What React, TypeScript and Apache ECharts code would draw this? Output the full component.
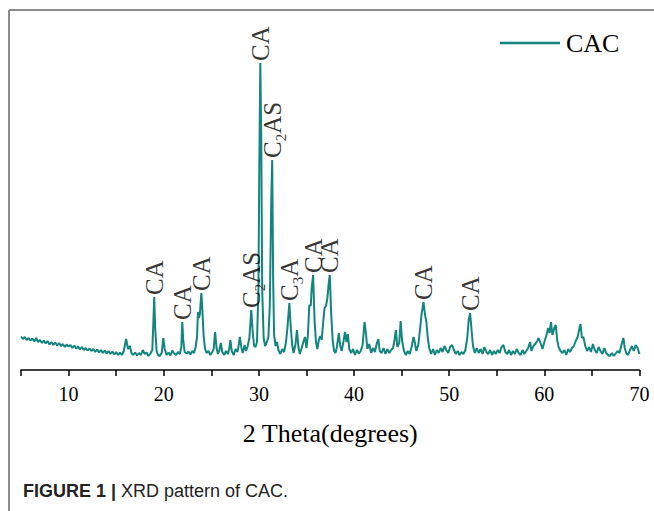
import React, { useEffect, useRef } from "react";
import * as echarts from "echarts";

// XRD pattern of CAC: [2θ (degrees), intensity (a.u.)]
const xrdPattern: [number, number][] = [
  [5.0, 335], [5.2, 310], [5.4, 330], [5.6, 300], [5.8, 320], [6.0, 295], [6.2, 315], [6.4, 285], [6.6, 320], [6.8, 280],
  [7.0, 300], [7.2, 270], [7.4, 295], [7.6, 265], [7.8, 290], [8.0, 255], [8.2, 280], [8.4, 250], [8.6, 275], [8.8, 245],
  [9.0, 270], [9.2, 240], [9.4, 260], [9.6, 230], [9.8, 255], [10.0, 235], [10.2, 250], [10.4, 220], [10.6, 245], [10.8, 215],
  [11.0, 235], [11.2, 205], [11.4, 230], [11.6, 200], [11.8, 220], [12.0, 195], [12.2, 215], [12.4, 190], [12.6, 210], [12.8, 180],
  [13.0, 205], [13.2, 175], [13.4, 200], [13.6, 170], [13.8, 195], [14.0, 165], [14.2, 190], [14.4, 160], [14.6, 185], [14.8, 155],
  [15.0, 180], [15.2, 150], [15.4, 175], [15.6, 150], [15.8, 190], [16.05, 310], [16.25, 210], [16.45, 240], [16.6, 170], [16.8, 150],
  [17.0, 175], [17.2, 145], [17.4, 170], [17.6, 150], [17.8, 200], [18.0, 160], [18.2, 175], [18.4, 140], [18.6, 165], [18.8, 200],
  [18.9, 450], [19.0, 730], [19.1, 420], [19.25, 190], [19.4, 150], [19.6, 140], [19.8, 175], [19.95, 320], [20.1, 210], [20.3, 150],
  [20.5, 175], [20.7, 145], [20.9, 195], [21.1, 165], [21.3, 150], [21.5, 180], [21.7, 160], [21.85, 230], [21.95, 480], [22.05, 300],
  [22.2, 180], [22.4, 165], [22.6, 185], [22.8, 155], [23.0, 190], [23.2, 170], [23.35, 230], [23.5, 330], [23.6, 580], [23.7, 520],
  [23.8, 560], [23.95, 770], [24.05, 620], [24.2, 330], [24.35, 210], [24.5, 170], [24.7, 190], [24.9, 150], [25.1, 180], [25.25, 210],
  [25.4, 380], [25.55, 220], [25.7, 160], [25.85, 200], [26.0, 270], [26.15, 180], [26.35, 150], [26.55, 190], [26.75, 160], [26.9, 220],
  [27.0, 300], [27.15, 190], [27.35, 150], [27.55, 210], [27.75, 180], [27.9, 260], [28.0, 330], [28.15, 230], [28.3, 170], [28.5, 250],
  [28.65, 190], [28.8, 230], [29.0, 320], [29.2, 600], [29.35, 380], [29.5, 240], [29.65, 230], [29.8, 280], [29.95, 800], [30.05, 2100],
  [30.15, 3070], [30.25, 2300], [30.35, 800], [30.5, 320], [30.65, 240], [30.8, 270], [31.0, 330], [31.15, 650], [31.3, 1700], [31.4, 2100],
  [31.5, 900], [31.6, 350], [31.75, 240], [31.9, 280], [32.05, 200], [32.25, 160], [32.45, 210], [32.65, 180], [32.85, 280], [33.0, 420],
  [33.2, 670], [33.35, 430], [33.5, 250], [33.65, 170], [33.85, 260], [34.0, 400], [34.15, 230], [34.3, 160], [34.5, 220], [34.7, 290],
  [34.85, 330], [35.0, 220], [35.15, 350], [35.3, 650], [35.45, 640], [35.55, 820], [35.7, 950], [35.85, 500], [36.0, 280], [36.15, 210],
  [36.3, 300], [36.45, 340], [36.6, 300], [36.75, 470], [36.9, 620], [37.05, 640], [37.2, 720], [37.35, 880], [37.45, 950], [37.6, 560],
  [37.75, 300], [37.9, 190], [38.05, 170], [38.2, 230], [38.4, 370], [38.55, 240], [38.7, 190], [38.9, 290], [39.05, 380], [39.2, 280],
  [39.35, 360], [39.5, 210], [39.7, 170], [39.9, 210], [40.1, 150], [40.3, 200], [40.5, 165], [40.7, 190], [40.9, 250], [41.1, 480],
  [41.25, 370], [41.4, 210], [41.6, 260], [41.8, 170], [42.0, 220], [42.2, 180], [42.4, 270], [42.55, 310], [42.7, 190], [42.9, 170],
  [43.1, 220], [43.3, 160], [43.5, 210], [43.7, 170], [43.9, 200], [44.1, 220], [44.25, 300], [44.4, 400], [44.55, 230], [44.75, 270],
  [44.9, 490], [45.05, 290], [45.25, 190], [45.45, 150], [45.65, 190], [45.85, 160], [46.05, 230], [46.25, 330], [46.4, 270], [46.55, 190],
  [46.75, 250], [46.95, 420], [47.1, 560], [47.3, 680], [47.45, 560], [47.6, 480], [47.75, 320], [47.9, 220], [48.1, 160], [48.3, 210],
  [48.5, 150], [48.7, 200], [48.9, 170], [49.1, 220], [49.3, 180], [49.5, 240], [49.7, 200], [49.9, 170], [50.1, 230], [50.3, 250],
  [50.5, 200], [50.7, 160], [50.9, 190], [51.1, 150], [51.3, 180], [51.5, 160], [51.7, 200], [51.9, 320], [52.05, 500], [52.2, 570],
  [52.35, 400], [52.5, 240], [52.7, 170], [52.9, 220], [53.1, 170], [53.3, 210], [53.5, 160], [53.7, 230], [53.9, 180], [54.1, 160],
  [54.3, 200], [54.5, 150], [54.7, 190], [54.9, 160], [55.1, 200], [55.3, 170], [55.5, 230], [55.7, 250], [55.9, 180], [56.1, 160],
  [56.3, 200], [56.5, 150], [56.7, 190], [56.9, 160], [57.1, 210], [57.3, 170], [57.5, 150], [57.7, 200], [57.9, 160], [58.1, 190],
  [58.3, 220], [58.5, 280], [58.65, 190], [58.85, 240], [59.05, 260], [59.25, 290], [59.4, 320], [59.6, 270], [59.8, 210], [60.0, 280],
  [60.2, 340], [60.4, 420], [60.55, 370], [60.7, 480], [60.85, 350], [61.05, 420], [61.2, 450], [61.35, 300], [61.5, 230], [61.7, 190],
  [61.9, 170], [62.1, 200], [62.3, 150], [62.5, 210], [62.7, 180], [62.9, 220], [63.1, 240], [63.3, 290], [63.5, 330], [63.65, 400],
  [63.8, 460], [63.95, 320], [64.1, 330], [64.3, 240], [64.5, 190], [64.7, 230], [64.9, 180], [65.1, 260], [65.3, 200], [65.5, 170],
  [65.7, 230], [65.9, 190], [66.1, 160], [66.3, 220], [66.5, 170], [66.7, 150], [66.9, 140], [67.1, 170], [67.3, 140], [67.5, 165],
  [67.7, 190], [67.9, 170], [68.1, 250], [68.3, 320], [68.45, 220], [68.6, 170], [68.8, 150], [69.0, 200], [69.2, 240], [69.4, 190],
  [69.6, 250], [69.8, 220], [70.0, 160],
];

// Phase identification labels
const peakPositions = [19.0, 21.95, 23.95, 29.2, 30.15, 31.4, 33.2, 35.7, 37.45, 47.3, 52.2];
const peakHeights = [730, 480, 770, 600, 3070, 2100, 670, 950, 950, 680, 570];
const peakPhases = ["CA", "CA", "CA", "C2AS", "CA", "C2AS", "C3A", "CA", "CA", "CA", "CA"];

const seriesName = "CAC";
const xAxisTitle = "2 Theta(degrees)";
const captionBold = "FIGURE 1 |";
const captionText = " XRD pattern of CAC.";

const SERIF = "'Liberation Serif', 'Times New Roman', serif";
const SANS = "'Liberation Sans', Arial, sans-serif";
const TEAL = "#13857f";

function phaseRich(p: string): string {
  const m = p.match(/^C(\d)(.*)$/);
  if (m) return `{m|C}{s|${m[1]}}{m|${m[2]}}`;
  return `{m|${p}}`;
}

export default function App() {
  const ref = useRef<HTMLDivElement>(null);
  useEffect(() => {
    if (!ref.current) return;
    const chart = echarts.init(ref.current, undefined, { renderer: "svg" });
    const labelData = peakPositions.map((x, i) => ({ value: [x, peakHeights[i]], phase: peakPhases[i] }));
    chart.setOption({
      animation: false,
      backgroundColor: "#fff",
      grid: { left: 21, right: 14.5, top: 20, bottom: 141, containLabel: false },
      legend: {
        data: [{ name: seriesName, icon: "rect" }],
        left: 500,
        top: 30,
        padding: 0,
        itemWidth: 60,
        itemHeight: 2.5,
        itemStyle: { color: TEAL },
        textStyle: { fontSize: 26, fontFamily: SERIF, color: "#000", padding: [0, 0, 0, 1] },
      },
      xAxis: {
        type: "value",
        min: 5,
        max: 70,
        interval: 5,
        name: xAxisTitle,
        nameLocation: "middle",
        nameGap: 50,
        nameTextStyle: { fontSize: 26, fontFamily: SERIF, color: "#000" },
        axisLine: { lineStyle: { color: "#000", width: 1.5 } },
        axisTick: { show: true, length: 6, lineStyle: { color: "#000", width: 1.5 } },
        axisLabel: {
          margin: 14,
          fontSize: 20,
          fontFamily: SERIF,
          color: "#000",
          formatter: (v: number) => (v % 10 === 0 ? String(v) : ""),
        },
        splitLine: { show: false },
      },
      yAxis: { type: "value", min: 0, max: 3500, show: false },
      series: [
        {
          name: seriesName,
          type: "line",
          data: xrdPattern,
          symbol: "none",
          lineStyle: { color: TEAL, width: 2 },
          itemStyle: { color: TEAL },
          z: 2,
        },
        {
          name: "phases",
          type: "scatter",
          data: labelData,
          symbol: "circle",
          symbolSize: 0,
          itemStyle: { color: "transparent" },
          silent: true,
          z: 3,
          label: {
            show: true,
            position: "top",
            distance: 2,
            rotate: 90,
            align: "left",
            verticalAlign: "middle",
            formatter: (p: any) => phaseRich(p.data.phase),
            rich: {
              m: { fontSize: 25, fontFamily: SERIF, color: "#000", lineHeight: 32, verticalAlign: "middle" },
              s: { fontSize: 15, fontFamily: SERIF, color: "#000", lineHeight: 15, verticalAlign: "bottom" },
            },
          },
        },
      ],
      graphic: [
        { type: "line", shape: { x1: 9, y1: 10, x2: 654, y2: 10 }, style: { stroke: "#666", lineWidth: 1.5 } },
        { type: "line", shape: { x1: 9, y1: 10, x2: 9, y2: 511 }, style: { stroke: "#666", lineWidth: 1.5 } },
        {
          type: "text",
          x: 23,
          y: 491,
          style: {
            text: `{b|${captionBold}}{n|${captionText}}`,
            verticalAlign: "middle",
            rich: {
              b: { fontSize: 18, fontFamily: SANS, fontWeight: "bold", fill: "#222" },
              n: { fontSize: 18, fontFamily: SANS, fill: "#222" },
            },
          },
        },
      ],
    });
    return () => chart.dispose();
  }, []);
  return (
    <div
      ref={ref}
      style={{ position: "fixed", left: 0, top: 0, width: 654, height: 511, background: "#fff" }}
    />
  );
}
